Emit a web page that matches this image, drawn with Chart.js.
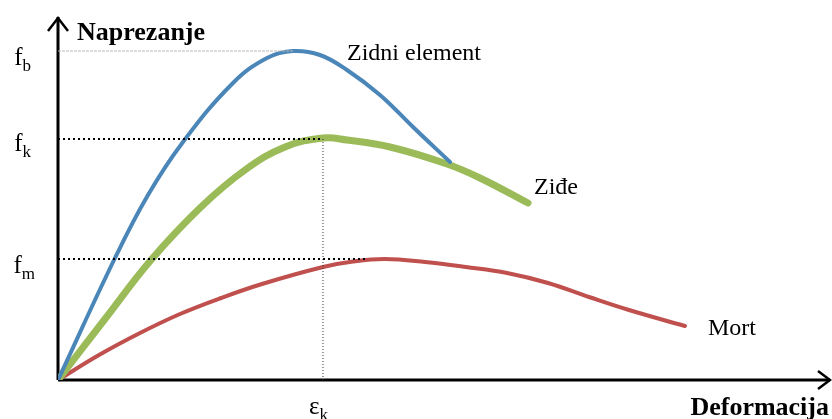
<!DOCTYPE html>
<html>
<head>
<meta charset="utf-8">
<script src="https://cdn.jsdelivr.net/npm/chart.js@4/dist/chart.umd.min.js"></script>
<style>
  html, body { margin: 0; padding: 0; background: #fff; }
  #wrap { width: 832px; height: 419px; position: relative; }
</style>
</head>
<body>
<div id="wrap"><canvas id="chart"></canvas></div>
<script>
// deformacija (‰) i naprezanje (MPa) za tri krive
var zidniX = [0, 0.57, 0.90, 1.25, 1.75, 2.09, 2.35, 2.62, 2.89, 3.22, 3.55, 3.92];
var zidniY = [0, 12.2, 18.5, 23.8, 29.7, 32.2, 32.9, 32.5, 31.0, 28.5, 25.3, 21.8];

var zideX = [0, 0.47, 0.93, 1.43, 1.87, 2.27, 2.65, 2.89, 3.32, 3.89, 4.22, 4.70];
var zideY = [0, 6.1, 12.0, 17.3, 21.0, 23.3, 24.2, 24.0, 23.3, 21.6, 20.2, 17.7];

var mortX = [0, 0.41, 0.82, 1.22, 1.63, 2.04, 2.65, 2.95, 3.27, 3.67, 4.08, 4.49, 4.90, 5.31, 5.71, 6.27];
var mortY = [0, 2.5, 4.7, 6.6, 8.2, 9.6, 11.3, 11.85, 12.1, 11.8, 11.3, 10.7, 9.7, 8.3, 7.0, 5.4];

// karakteristične vrijednosti
var fb = 32.9, fk = 24.1, fm = 12.1, epsK = 2.65;
var fbEnd = 2.35, fmEnd = 3.1;

function pts(xs, ys) {
  return xs.map(function (x, i) { return { x: x, y: ys[i] }; });
}

var curve = { showLine: true, pointRadius: 0, tension: 0.4, fill: false,
  borderCapStyle: 'round', borderJoinStyle: 'round' };

// ose sa strelicama i natpisi
var annotations = {
  id: 'annotations',
  beforeDatasetsDraw: function (chart) {
    var ctx = chart.ctx, a = chart.chartArea;
    var sx = chart.scales.x, sy = chart.scales.y;
    var x0 = sx.getPixelForValue(0), y0 = sy.getPixelForValue(0);
    ctx.save();
    ctx.strokeStyle = '#000';
    ctx.lineWidth = 3;
    ctx.beginPath();
    ctx.moveTo(x0, y0);
    ctx.lineTo(x0, a.top);
    ctx.moveTo(x0, y0);
    ctx.lineTo(a.right, y0);
    ctx.stroke();
    ctx.lineWidth = 2.5;
    ctx.beginPath();
    ctx.moveTo(x0 - 10, a.top + 14);
    ctx.lineTo(x0, a.top + 1);
    ctx.lineTo(x0 + 10, a.top + 14);
    ctx.moveTo(a.right - 12, y0 - 9);
    ctx.lineTo(a.right, y0);
    ctx.lineTo(a.right - 12, y0 + 9);
    ctx.stroke();
    ctx.restore();
  },
  afterDatasetsDraw: function (chart) {
    var ctx = chart.ctx;
    var sx = chart.scales.x, sy = chart.scales.y;
    ctx.save();
    ctx.fillStyle = '#000';
    ctx.textBaseline = 'alphabetic';

    ctx.font = 'bold 26px "Liberation Serif", serif';
    ctx.textAlign = 'left';
    ctx.fillText('Naprezanje', 77, 40);
    ctx.textAlign = 'right';
    ctx.fillText('Deformacija', 829, 415);

    // oznake sa indeksom
    function sub(main, s, xr, y) {
      ctx.textAlign = 'left';
      ctx.font = '25px "Liberation Serif", serif';
      var w = ctx.measureText(main).width;
      ctx.font = '17px "Liberation Serif", serif';
      var ws = ctx.measureText(s).width;
      var xl = xr - w - ws;
      ctx.font = '25px "Liberation Serif", serif';
      ctx.fillText(main, xl, y);
      ctx.font = '17px "Liberation Serif", serif';
      ctx.fillText(s, xl + w, y + 6);
    }
    sub('f', 'b', 31, sy.getPixelForValue(fb) + 14);
    sub('f', 'k', 31, sy.getPixelForValue(fk) + 12);
    sub('f', 'm', 35, sy.getPixelForValue(fm) + 14);
    sub('\u03b5', 'k', sx.getPixelForValue(epsK) + 5, 414);

    // nazivi krivih
    ctx.font = '24px "Liberation Serif", serif';
    ctx.textAlign = 'left';
    ctx.fillText('Zidni element', 347, 60);
    ctx.fillText('Ziđe', 534, 194);
    ctx.fillText('Mort', 708, 335);
    ctx.restore();
  }
};

new Chart(document.getElementById('chart'), {
  type: 'scatter',
  data: {
    datasets: [
      { data: [{ x: 0, y: fb }, { x: fbEnd, y: fb }], showLine: true, pointRadius: 0,
        borderColor: '#b8b8b8', borderWidth: 1, borderDash: [3, 1] },
      { data: [{ x: 0, y: fk }, { x: epsK, y: fk }], showLine: true, pointRadius: 0,
        borderColor: '#000', borderWidth: 2, borderDash: [2, 3] },
      { data: [{ x: 0, y: fm }, { x: fmEnd, y: fm }], showLine: true, pointRadius: 0,
        borderColor: '#000', borderWidth: 2, borderDash: [2, 3] },
      { data: [{ x: epsK, y: 0 }, { x: epsK, y: fk }], showLine: true, pointRadius: 0,
        borderColor: '#333', borderWidth: 1, borderDash: [1, 2] },
      Object.assign({ label: 'Zidni element', data: pts(zidniX, zidniY),
        borderColor: '#4a86b8', borderWidth: 4 }, curve),
      Object.assign({ label: 'Ziđe', data: pts(zideX, zideY),
        borderColor: '#9bbb59', borderWidth: 7 }, curve),
      Object.assign({ label: 'Mort', data: pts(mortX, mortY),
        borderColor: '#c0504d', borderWidth: 4 }, curve)
    ]
  },
  options: {
    responsive: true,
    maintainAspectRatio: false,
    animation: false,
    layout: { padding: { left: 58, right: 2, top: 17, bottom: 39 } },
    plugins: { legend: { display: false }, tooltip: { enabled: false } },
    scales: {
      x: { type: 'linear', min: 0, max: 7.72, display: false },
      y: { type: 'linear', min: 0, max: 36.3, display: false }
    }
  },
  plugins: [annotations]
});
</script>
</body>
</html>
